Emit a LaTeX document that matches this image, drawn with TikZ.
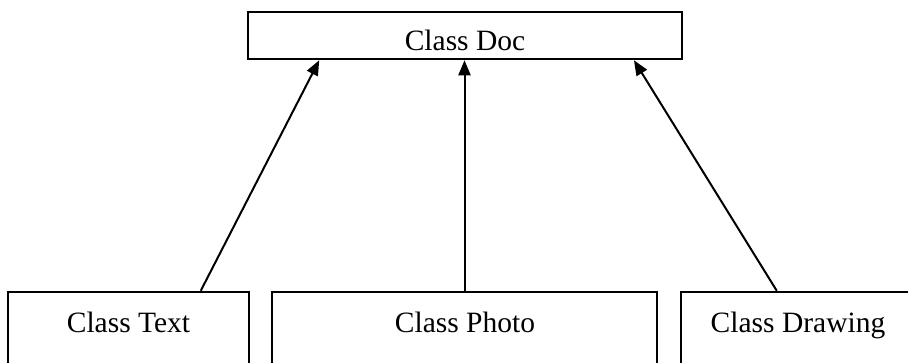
\documentclass[tikz,border=0pt]{standalone}
\usepackage{fontspec}
\setmainfont{Liberation Serif}
\usetikzlibrary{arrows.meta,calc}

\begin{document}
\begin{tikzpicture}[x=1pt,y=-1pt,
  classbox/.style={draw=black,line width=2.5pt,inner sep=0pt,fill=none},
  classname/.style={anchor=base,inner sep=0pt,font=\fontsize{29.5}{34}\selectfont},
  inherit/.style={line width=2pt,-{Triangle[length=15pt,width=12pt]}}]
  \useasboundingbox (0,0) rectangle (908,362);
  \clip (0,0) rectangle (908,362);

  % parent class
  \node[classbox,minimum width=434pt,minimum height=47pt] (doc) at (465,35.5) {};
  \node[classname] (doclbl) at (465,50) {Class Doc};

  % child classes (their lower edges run past the page)
  \node[classbox,minimum width=241pt,minimum height=120pt] (text) at (128.5,352) {};
  \node[classname] (textlbl) at (128.5,332) {Class Text};

  \node[classbox,minimum width=385pt,minimum height=120pt] (photo) at (464.5,352) {};
  \node[classname] (photolbl) at (465,332) {Class Photo};

  \node[classbox,minimum width=300pt,minimum height=120pt] (drawing) at (831,352) {};
  \node[classname] (drawinglbl) at (798,332) {Class Drawing};

  % inheritance arrows
  \coordinate (textout) at ($(text.north west)+(194,0)$);
  \coordinate (drawingout) at ($(drawing.north west)+(97,0)$);
  \draw[inherit] (textout) -- ($(doc.south west)!0.166!(doc.south east)$);
  \draw[inherit] (photo.north) -- (photo.north |- doc.south);
  \draw[inherit] (drawingout) -- ($(doc.south west)!0.887!(doc.south east)$);
\end{tikzpicture}
\end{document}
